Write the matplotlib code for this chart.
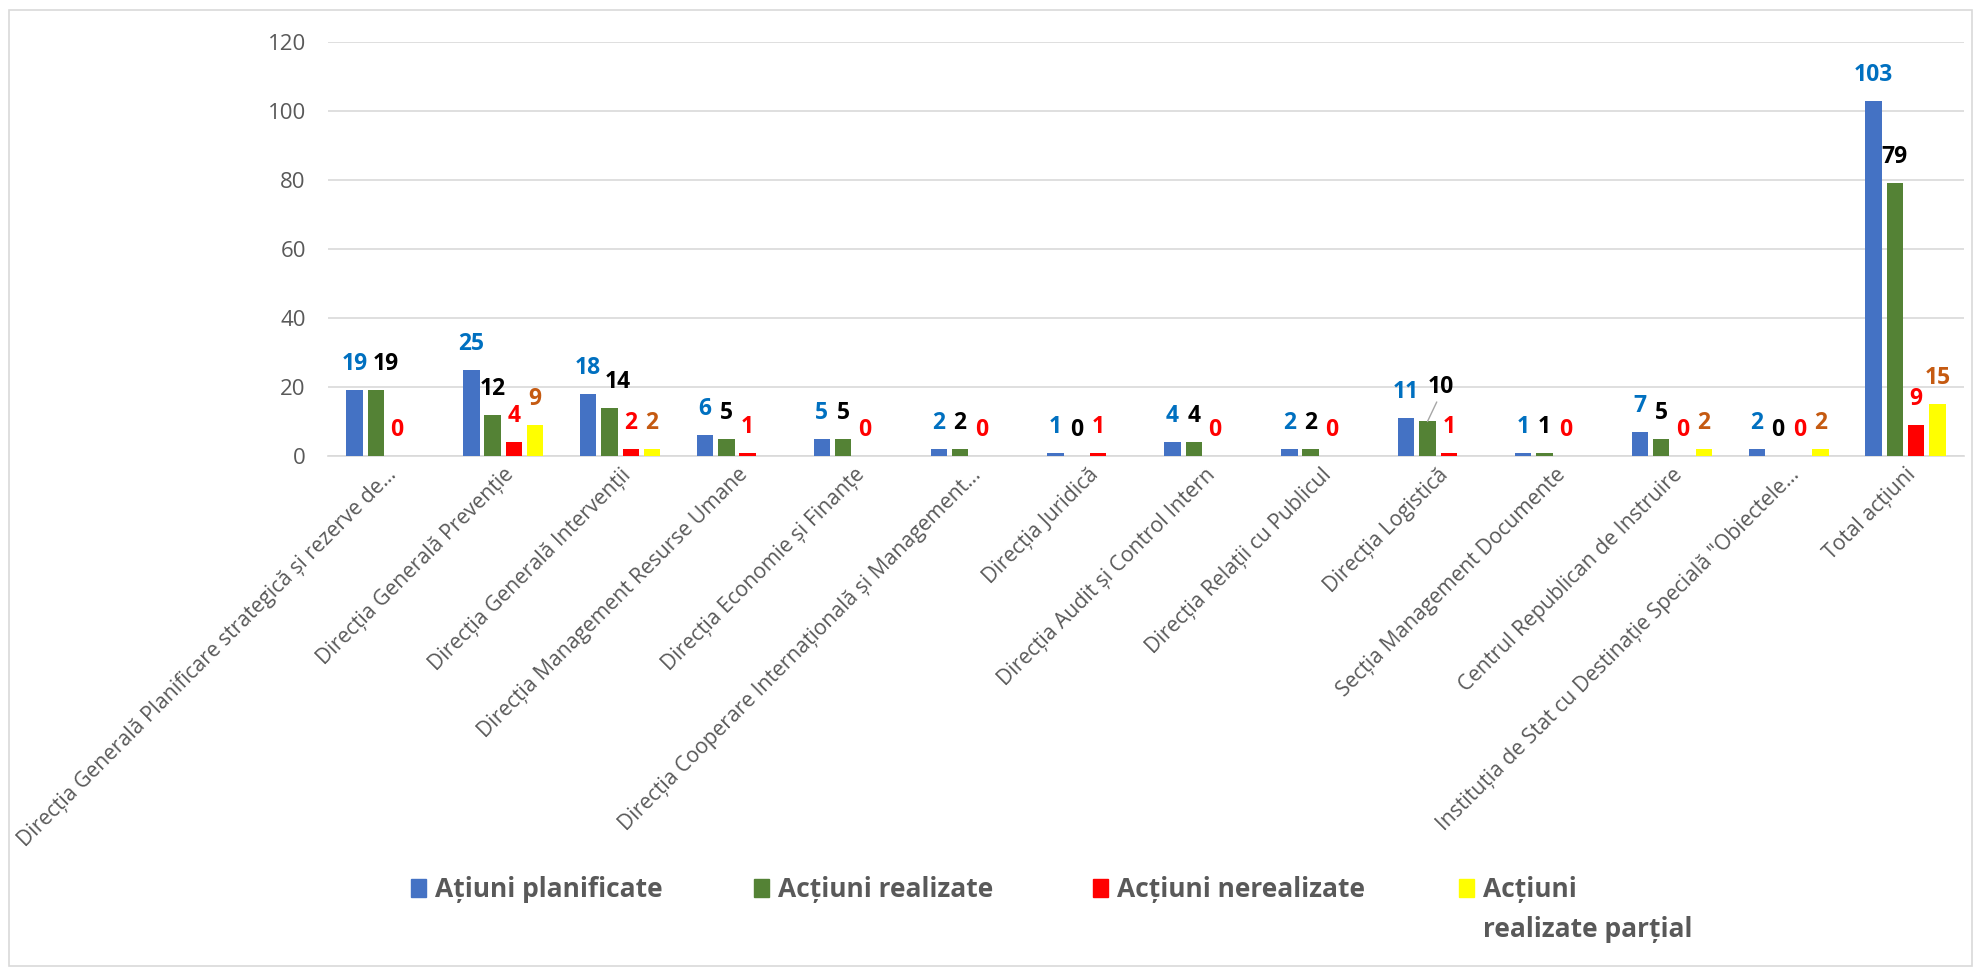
import numpy as np
import matplotlib
matplotlib.use("Agg")
import matplotlib.pyplot as plt
from matplotlib.patches import Rectangle

plt.rcParams['font.family'] = ['Open Sans', 'DejaVu Sans']

# date
categorii = [
    'Direcția Generală Planificare strategică și rezerve de…',
    'Direcția Generală Prevenție',
    'Direcția Generală Intervenții',
    'Direcția Management Resurse Umane',
    'Direcția Economie și Finanțe',
    'Direcția Cooperare Internațională și Management…',
    'Direcția Juridică',
    'Direcția Audit și Control Intern',
    'Direcția Relații cu Publicul',
    'Direcția Logistică',
    'Secția Management Documente',
    'Centrul Republican de Instruire',
    'Instituția de Stat cu Destinație Specială "Obiectele…',
    'Total acțiuni',
]
planificate = [19, 25, 18, 6, 5, 2, 1, 4, 2, 11, 1, 7, 2, 103]
realizate = [19, 12, 14, 5, 5, 2, 0, 4, 2, 10, 1, 5, 0, 79]
nerealizate = [0, 4, 2, 1, 0, 0, 1, 0, 0, 1, 0, 0, 0, 9]
partial = [None, 9, 2, None, None, None, None, None, None, None, None, 2, 2, 15]

serii = ['Ațiuni planificate', 'Acțiuni realizate', 'Acțiuni nerealizate',
         'Acțiuni\nrealizate parțial']
culori_bare = ['#4472C4', '#548235', '#FF0000', '#FFFF00']
culori_etichete = ['#0070C0', '#000000', '#FF0000', '#C55A11']
gri = '#595959'

W, H = 1977, 971
fig = plt.figure(figsize=(W / 100, H / 100), dpi=100)
ax = fig.add_axes([328 / W, 1 - 456 / H, (1964 - 328) / W, (456 - 42) / H])

x = np.arange(len(categorii))
pas = 0.1823
latime = 0.141
# etichete mutate manual in Excel (puncte)
ajustari = {(1, 0): (7, 0), (1, 2): (6, 0), (1, 9): (9.5, 6)}

for i, vals in enumerate([planificate, realizate, nerealizate, partial]):
    idx = [k for k, v in enumerate(vals) if v is not None]
    xs = x[idx] + (i - 1.5) * pas
    hs = [vals[k] for k in idx]
    ax.bar(xs, hs, width=latime, color=culori_bare[i], zorder=3)
    for k, xi, v in zip(idx, xs, hs):
        dx, dy = ajustari.get((i, k), (0, 0))
        props = None
        if (i, k) == (1, 9):
            props = dict(arrowstyle='-', color='#A6A6A6', lw=1, shrinkA=0, shrinkB=0,
                         relpos=(0.4, 0))
        ax.annotate(str(v), xy=(xi, v), xytext=(dx, 18.7 + dy), textcoords='offset points',
                    ha='center', va='center', color=culori_etichete[i], fontsize=16.5,
                    fontweight='bold', arrowprops=props, zorder=4)

ax.set_xlim(-0.5, len(categorii) - 0.5)
ax.set_ylim(0, 120)
ax.set_yticks(range(0, 121, 20))
ax.set_xticks(x)
ax.set_xticklabels(categorii, rotation=45, ha='right', va='top', rotation_mode='anchor',
                   fontsize=15.2, color=gri)
ax.tick_params(axis='x', length=0, pad=6)
ax.tick_params(axis='y', length=0, pad=16, labelsize=16, labelcolor=gri)
ax.yaxis.grid(True, color='#D9D9D9', lw=1.2)
ax.set_axisbelow(True)
for s in ['top', 'right', 'left']:
    ax.spines[s].set_visible(False)
ax.spines['bottom'].set_color('#D9D9D9')
ax.spines['bottom'].set_linewidth(1.2)

# chenar
fig.add_artist(Rectangle((9 / W, 1 - 966 / H), (1972 - 9) / W, (966 - 10) / H,
                         transform=fig.transFigure, fill=False, edgecolor='#D9D9D9', lw=1.2))

# legenda (fiecare rand de text separat, 40 px intre randuri)
leg_x = [411, 754, 1093, 1459]
for px, lab, c in zip(leg_x, serii, culori_bare):
    fig.add_artist(Rectangle((px / W, 1 - 897 / H), 15 / W, 18 / H,
                             transform=fig.transFigure, color=c))
    for j, rand in enumerate(lab.split('\n')):
        fig.text((px + 24) / W, 1 - (897 + 40 * j) / H, rand, ha='left', va='baseline',
                 fontsize=19, fontweight='bold', color=gri)

fig.savefig('out.png', dpi=100)
